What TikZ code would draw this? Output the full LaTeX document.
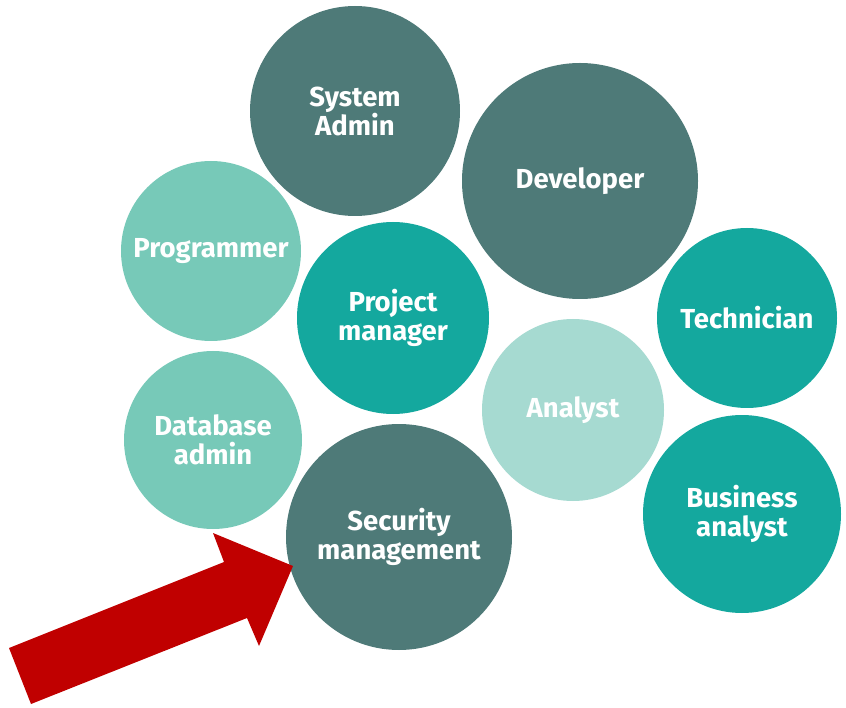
\documentclass[tikz,border=0pt]{standalone}
\usepackage{fontspec}
\setmainfont{Fira Sans}
\definecolor{darkteal}{HTML}{4E7A78}
\definecolor{midteal}{HTML}{14A89E}
\definecolor{lightteal}{HTML}{77C9B8}
\definecolor{paleteal}{HTML}{A6DAD1}
\definecolor{arrowred}{HTML}{C00000}
\tikzset{
	role/.style={circle, inner sep=0pt, text=white, align=center,
		font=\bfseries\fontsize{27.5}{29}\selectfont},
}

\begin{document}
\begin{tikzpicture}[x=1pt,y=-1pt]
	\useasboundingbox (0,0) rectangle (846,708);
	\node[role, fill=darkteal, minimum size=210] (sysadmin) at (355,111) {System\\Admin};
	\node[role, fill=darkteal, minimum size=236] (developer) at (580,181) {Developer};
	\node[role, fill=lightteal, minimum size=180] (programmer) at (211,251) {Programmer};
	\node[role, fill=midteal, minimum size=192] (pm) at (393,318) {Project\\manager};
	\node[role, fill=midteal, minimum size=180] (technician) at (747,318) {Technician};
	\node[role, fill=paleteal, minimum size=182] (analyst) at (573,410) {Analyst};
	\node[role, fill=lightteal, minimum size=178] (dbadmin) at (213,440) {Database\\admin};
	\node[role, fill=darkteal, minimum size=226] (security) at (399,537) {Security\\management};
	\node[role, fill=midteal, minimum size=198] (business) at (742,514) {Business\\analyst};
	\fill[arrowred] (9,648)--(224,562)--(213,533)--(293,566)--(259,646)--(247,618)--(31,704)--cycle;
\end{tikzpicture}
\end{document}
